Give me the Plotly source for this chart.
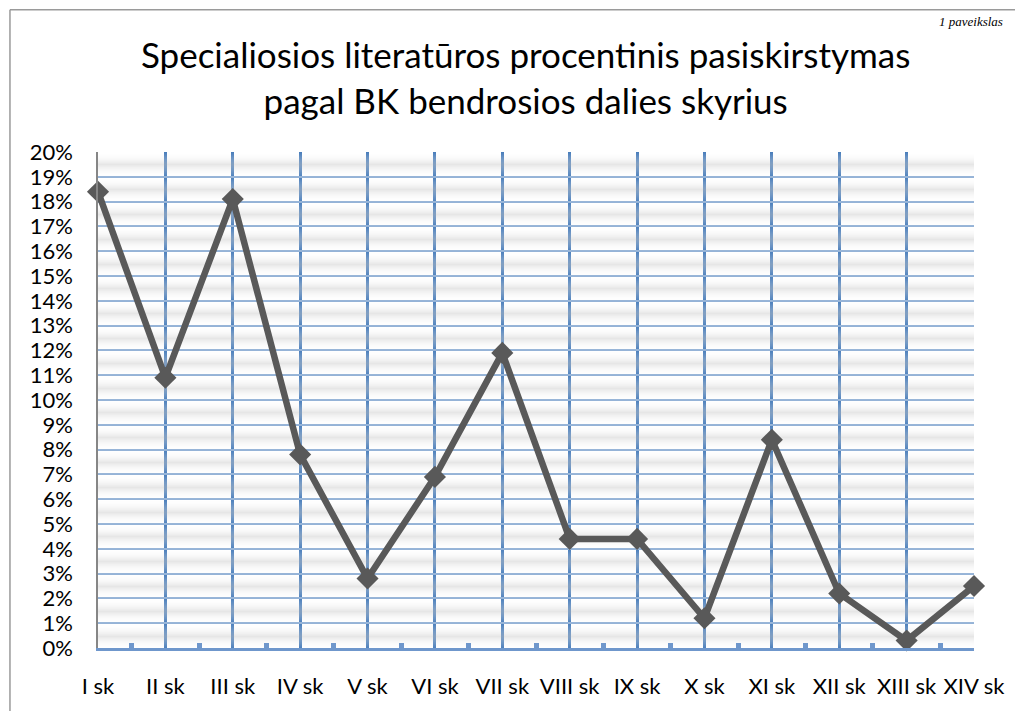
import plotly.graph_objects as go

# chapter labels and share of literature (%)
chapters = ['I sk', 'II sk', 'III sk', 'IV sk', 'V sk', 'VI sk', 'VII sk',
            'VIII sk', 'IX sk', 'X sk', 'XI sk', 'XII sk', 'XIII sk', 'XIV sk']
shares = [18.4, 10.9, 18.1, 7.8, 2.8, 6.9, 11.9, 4.4, 4.4, 1.2, 8.4, 2.2, 0.3, 2.5]
ytick_vals = list(range(0, 21))
ytick_text = ['%d%%' % v for v in ytick_vals]

title = 'Specialiosios literatūros procentinis pasiskirstymas<br>pagal BK bendrosios dalies skyrius'

xpos = list(range(len(chapters)))

fig = go.Figure()

# striped gray shading between gridlines (decoration only)
band_y = [i / 2 for i in range(0, 41)]
band_z = [[i % 2, i % 2] for i in range(0, 41)]
fig.add_trace(go.Heatmap(
    x=[0, len(chapters) - 1], y=band_y, z=band_z, zsmooth='best',
    colorscale=[[0, 'rgba(255,255,255,0)'], [1, 'rgba(200,200,200,0.45)']],
    showscale=False, hoverinfo='skip'))

fig.add_trace(go.Scatter(
    x=xpos, y=shares, mode='lines+markers', cliponaxis=False,
    line=dict(color='#595959', width=6.5),
    marker=dict(symbol='diamond', size=17, color='#595959'),
    hovertemplate='%{text}: %{y}%<extra></extra>', text=chapters))

# page body adds 8px margin, so the figure is 8px smaller than the window
fig.update_layout(
    width=1015, height=703,
    margin=dict(l=90, r=49, t=144, b=60),
    paper_bgcolor='white', plot_bgcolor='white',
    showlegend=False,
    font=dict(family='Lato, Noto Sans, sans-serif', color='black'),
    title=dict(text=title, x=0.51, xanchor='center', y=0.914, yanchor='middle',
               font=dict(size=35, color='black')),
)

fig.update_xaxes(
    range=[0, len(chapters) - 1], tickvals=xpos, ticktext=chapters,
    showgrid=True, gridcolor='#4a7ebb', gridwidth=2.5,
    showline=True, linecolor='#6f97cc', linewidth=3,
    ticks='', ticklabelstandoff=17, tickfont=dict(size=22),
    zeroline=False,
    minor=dict(ticks='inside', tick0=0.5, dtick=1, ticklen=5, tickwidth=5,
               tickcolor='#6f97cc', showgrid=False))

fig.update_yaxes(
    range=[0, 20], tickvals=ytick_vals, ticktext=ytick_text,
    showgrid=True, gridcolor='#95b3d7', gridwidth=1.5,
    showline=True, linecolor='#868686', linewidth=1.5,
    ticks='', ticklabelstandoff=19, tickfont=dict(size=22),
    zeroline=False)

# chart frame (top and left edges)
fig.add_shape(type='line', xref='paper', yref='paper', x0=-0.1005, x1=1.07,
              y0=1.2866, y1=1.2866, line=dict(color='#9a9a9a', width=1.5))
fig.add_shape(type='line', xref='paper', yref='paper', x0=-0.1005, x1=-0.1005,
              y0=1.2866, y1=-0.13, line=dict(color='#9a9a9a', width=1.5))

fig.add_annotation(text='1 paveikslas', xref='paper', yref='paper',
                   x=1.035, y=1.282, xanchor='right', yanchor='top',
                   showarrow=False,
                   font=dict(family='Liberation Serif', size=13, color='black',
                             style='italic'))

fig.write_html("out.html")
